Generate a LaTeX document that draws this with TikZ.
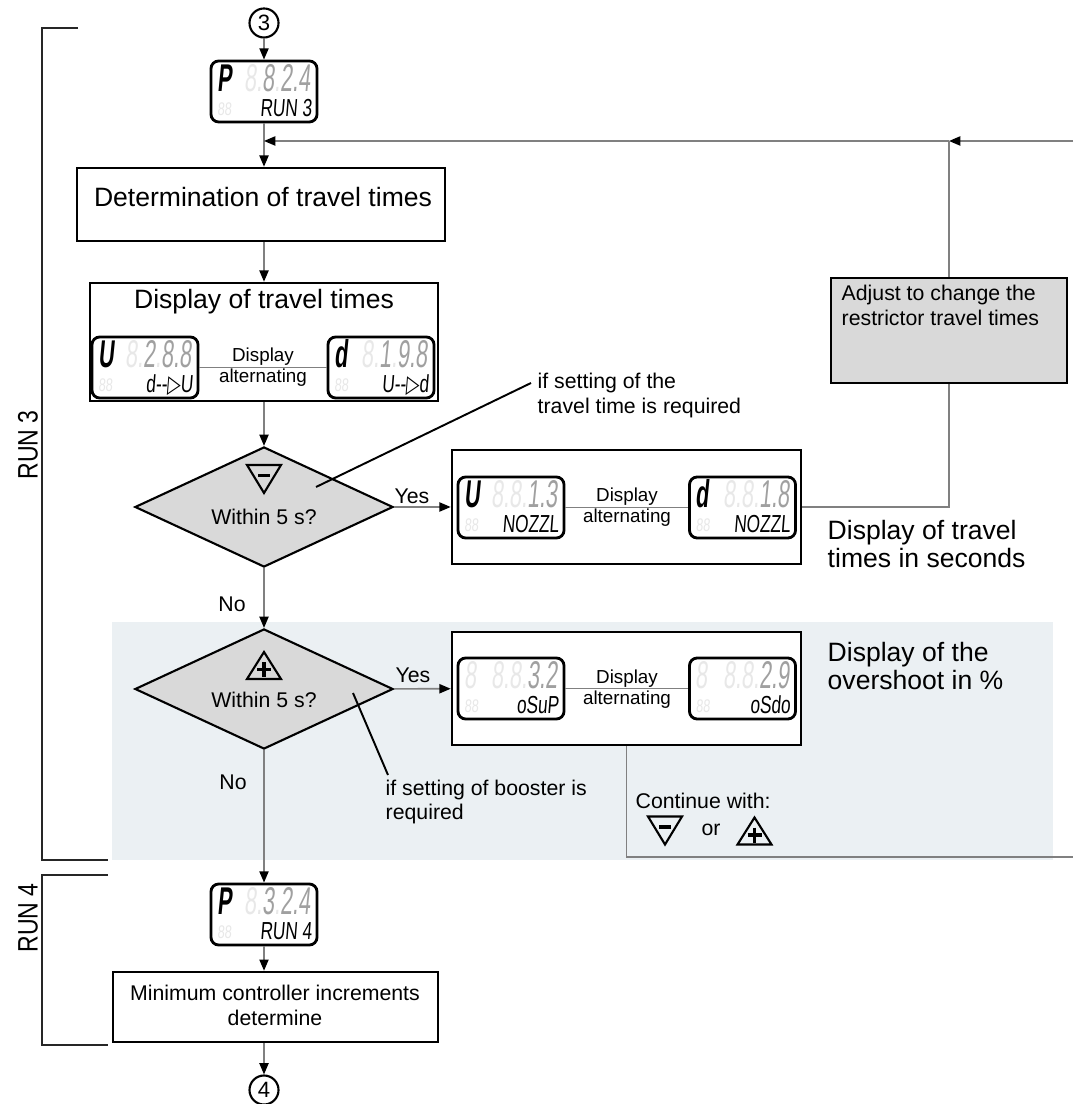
\documentclass[tikz,border=0pt]{standalone}
\usepackage{fontspec}
\setmainfont{Liberation Sans}
\newfontfamily\lcdfont[FakeStretch=0.56,FakeSlant=0.1]{Liberation Sans}
\newfontfamily\lcdlabelfont[FakeStretch=0.7,FakeSlant=0.08]{Liberation Sans}
\newfontfamily\runfont[FakeStretch=0.82]{Liberation Sans}
\newfontfamily\arrowfont[FakeStretch=0.7,FakeSlant=0.08]{DejaVu Sans}
\usetikzlibrary{arrows.meta, shapes.geometric}

\definecolor{lcdon}{HTML}{A0A0A0}
\definecolor{lcdoff}{HTML}{E8E8E8}
\definecolor{keygray}{HTML}{D9D9D9}
\definecolor{linegray}{HTML}{808080}
\definecolor{shadeblue}{HTML}{EBF0F3}

\newcommand{\segon}[1]{\textcolor{lcdon}{#1}}
\newcommand{\segoff}[1]{\textcolor{lcdoff}{#1}}
% name, position, letter, digits, bottom text
\newcommand{\lcd}[5]{%
	\node[lcd] (#1) at (#2) {};
	\node[lcdbig, anchor=base west] (#1-c) at ([shift={(7,32)}]#1.north west) {#3};
	\node[lcdbig, anchor=base east] (#1-n) at ([shift={(-7,32)}]#1.north east) {#4};
	\node[lcdtiny, anchor=base west] (#1-o) at ([shift={(7,56)}]#1.north west) {\segoff{88}};
	\node[lcdsmall, anchor=base east] (#1-t) at ([shift={(-6,57)}]#1.north east) {#5};
}

\tikzset{
	lcd/.style={draw, line width=0.8pt, rounded corners=2.2pt, fill=white, minimum width=1.06cm, minimum height=0.61cm, inner sep=0pt},
	lcdbig/.style={inner sep=0pt, font=\lcdfont\fontsize{11}{11}\selectfont},
	lcdsmall/.style={inner sep=0pt, font=\lcdlabelfont\fontsize{7}{7}\selectfont},
	lcdtiny/.style={inner sep=0pt, font=\lcdlabelfont\fontsize{5.2}{5.2}\selectfont},
	keydown/.pic={
		\draw[line width=0.6pt] (-17,-14) -- (17,-14) -- (0,14) -- cycle;
		\draw[line width=1.1pt] (-6,-3.5) -- (6,-3.5);
	},
	keyup/.pic={
		\draw[line width=0.6pt] (-17,13.5) -- (17,13.5) -- (0,-13.5) -- cycle;
		\draw[line width=1.1pt] (-7,4) -- (7,4) (0,-3.5) -- (0,11.5);
	}
}

\begin{document}
\begin{tikzpicture}[x=0.01cm, y=-0.01cm,
	box/.style={draw, line width=0.7pt, fill=white, inner sep=0pt},
	decision/.style={diamond, aspect=2.15, draw, line width=0.6pt, fill=keygray, minimum width=2.58cm, minimum height=1.2cm, inner sep=0pt},
	terminal/.style={circle, draw, line width=0.6pt, fill=white, minimum size=0.29cm, inner sep=0pt, font=\fontsize{6.3}{7}\selectfont},
	flow/.style={draw=linegray, line width=0.45pt, -{Triangle[length=3.2pt, width=2.6pt, color=black]}},
	plain/.style={draw=linegray, line width=0.45pt},
	note/.style={draw=black, line width=0.55pt},
	bracket/.style={draw=black!85, line width=0.4pt},
	bigtext/.style={inner sep=0pt, font=\fontsize{7.55}{8}\selectfont, align=left},
	midtext/.style={inner sep=0pt, font=\fontsize{6.05}{7.1}\selectfont, align=left},
	smalltext/.style={inner sep=0pt, font=\fontsize{5.35}{6}\selectfont, align=center},
	runtext/.style={inner sep=0pt, rotate=90, font=\runfont\fontsize{8}{8}\selectfont}
	]
	\useasboundingbox (0,0) rectangle (1073,1104);
	
	% Shaded area of the booster step
	\fill[shadeblue] (112,622) rectangle (1053,860);
	
	% Run brackets
	\draw[bracket] (78,28) -- (42,28) -- (42,860) -- (108,860);
	\draw[bracket] (108,875) -- (42,875) -- (42,1045) -- (108,1045);
	\node[runtext] (run3) at (28,445) {RUN 3};
	\node[runtext] (run4) at (28,918) {RUN 4};
	
	% Page connectors
	\node[terminal] (t3) at (264,23) {3};
	\node[terminal] (t4) at (264,1090) {4};
	
	% Boxes
	\node[box, minimum width=3.68cm, minimum height=0.73cm] (det) at (261,204.5) {};
	\node[bigtext] (det-t) at (263,197) {Determination of travel times};
	\node[box, minimum width=3.48cm, minimum height=1.18cm] (tt) at (264,342) {};
	\node[bigtext] (tt-t) at (264,302) {Display of travel times};
	\node[box, minimum width=3.49cm, minimum height=1.14cm] (noz) at (626.5,507) {};
	\node[box, minimum width=3.49cm, minimum height=1.13cm] (os) at (626.5,688.5) {};
	\node[box, fill=keygray, minimum width=2.36cm, minimum height=1.05cm] (adj) at (949,330.5) {};
	\node[midtext, anchor=west] (adj-t) at (841,305.5) {Adjust to change the\\restrictor travel times};
	\node[box, minimum width=3.25cm, minimum height=0.7cm] (min) at (275.5,1007) {};
	\node[midtext, align=center] (min-t) at (275,1005) {Minimum controller increments\\determine};
	
	% Decisions
	\node[decision] (q1) at (264,507) {};
	\pic (q1-k) at (264,479) {keydown};
	\node[midtext] (q1-t) at (264,517) {Within 5 s?};
	\node[decision] (q2) at (264,689) {};
	\pic (q2-k) at (264,665.5) {keyup};
	\node[midtext] (q2-t) at (264,700) {Within 5 s?};
	
	% Displays
	\lcd{dsp3}{264,91.5}{\bfseries P}{\segoff{8.}\segon{8}\segoff{.}\segon{2.4}}{RUN 3}
	\lcd{dspU}{145,367.5}{\bfseries U}{\segoff{8.}\segon{2}\segoff{.}\segon{8.8}}{d-{}-{\arrowfont ▷}U}
	\lcd{dspD}{381,367.5}{\bfseries d}{\segoff{8.}\segon{1}\segoff{.}\segon{9.8}}{U-{}-{\arrowfont ▷}d}
	\lcd{nozU}{511,507.5}{\bfseries U}{\segoff{8.8.}\segon{1.3}}{NOZZL}
	\lcd{nozD}{742.5,507.5}{\bfseries d}{\segoff{8.8.}\segon{1.8}}{NOZZL}
	\lcd{osU}{511,688.5}{\segoff{8}}{\segoff{8.8.}\segon{3.2}}{oSuP}
	\lcd{osD}{742.5,688.5}{\segoff{8}}{\segoff{8.8.}\segon{2.9}}{oSdo}
	\lcd{dsp4}{264,914.5}{\bfseries P}{\segoff{8.}\segon{3}\segoff{.}\segon{2.4}}{RUN 4}
	\node[smalltext] (tt-a) at (263,367.5) {Display\\alternating};
	\node[smalltext] (noz-a) at (627,507.5) {Display\\alternating};
	\node[smalltext] (os-a) at (627,689) {Display\\alternating};
	
	% Labels
	\node[midtext] (yes1) at (412,496) {Yes};
	\node[midtext] (no1) at (232,604) {No};
	\node[midtext] (yes2) at (413,675) {Yes};
	\node[midtext] (no2) at (233,782) {No};
	\node[midtext, anchor=west] (note1) at (537,395.5) {if setting of the\\travel time is required};
	\node[midtext, anchor=west] (note2) at (385,802) {if setting of booster is\\required};
	\node[bigtext, anchor=west] (sec-t) at (827,544) {Display of travel\\times in seconds};
	\node[bigtext, anchor=west] (os-t) at (827,666) {Display of the\\overshoot in \%};
	\node[midtext, anchor=west] (cont-t) at (635,801) {Continue with:};
	\pic (cont-d) at (665,830.5) {keydown};
	\node[midtext] (cont-o) at (711,830) {or};
	\pic (cont-u) at (754.5,831) {keyup};
	
	% Free ends
	\coordinate (fb-in) at (1073,141);
	\coordinate (fb-j) at (949,141);
	\coordinate (fb-m) at (264,141);
	\coordinate (os-out) at (1073,857);
	\coordinate (q1-a) at (316,487);
	\coordinate (note1-a) at (531,383);
	\coordinate (q2-a) at (353,693);
	\coordinate (note2-a) at (388,775);
	
	% Connections
	\draw[flow] (t3) -- (dsp3);
	\draw[flow] (dsp3) -- (dsp3 |- det.north);
	\draw[flow] (fb-in) -- (fb-j);
	\draw[flow] (fb-j) -- (fb-m);
	\draw[plain] (adj) -- (fb-j);
	\draw[flow] (tt |- det.south) -- (tt);
	\draw[flow] (tt) -- (q1);
	\draw[flow] (q1) -- (noz);
	\draw[flow] (q1) -- (q2);
	\draw[plain] (noz) -| (adj);
	\draw[flow] (q2) -- (os);
	\draw[flow] (q2) -- (dsp4);
	\draw[plain] (os) |- (os-out);
	\draw[flow] (dsp4) -- (dsp4 |- min.north);
	\draw[flow] (t4 |- min.south) -- (t4);
	\draw[plain] (dspU) -- (dspD);
	\draw[plain] (nozU) -- (nozD);
	\draw[plain] (osU) -- (osD);
	\draw[note] (q1-a) -- (note1-a);
	\draw[note] (q2-a) -- (note2-a);
\end{tikzpicture}
\end{document}
